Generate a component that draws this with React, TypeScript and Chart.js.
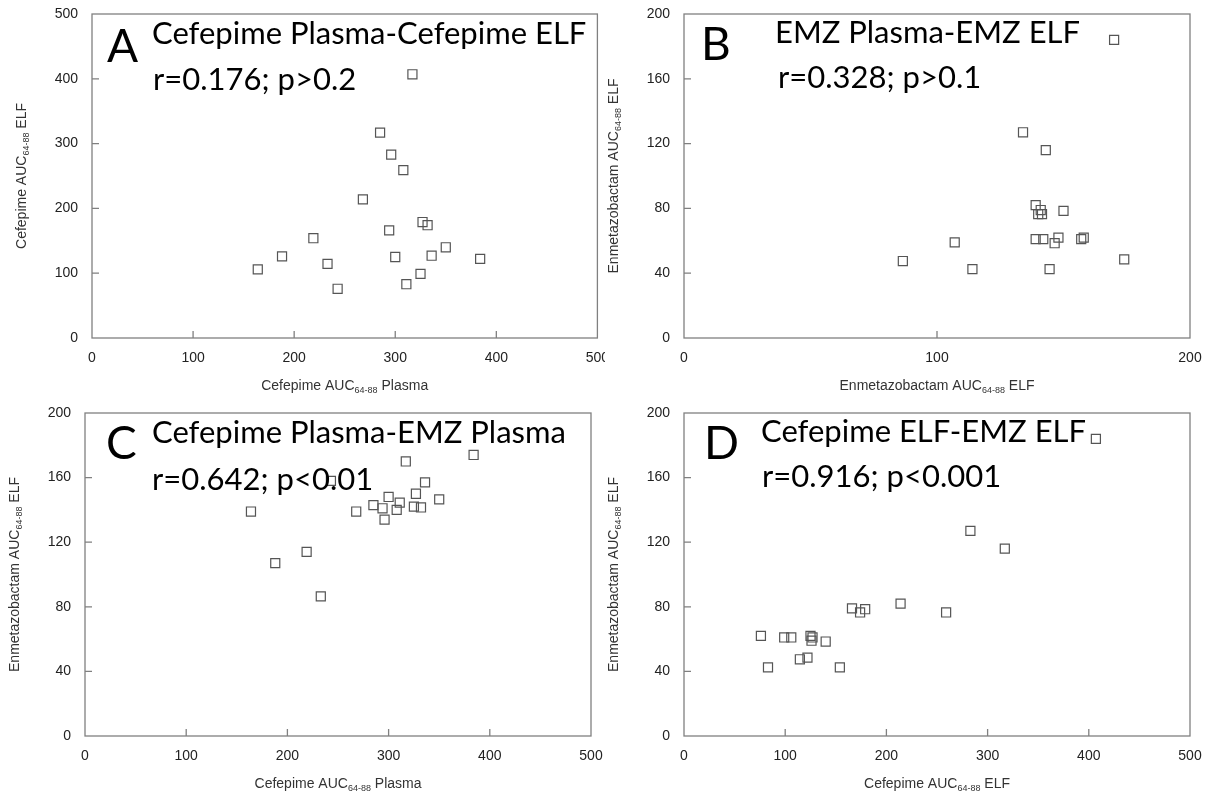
import React, { useEffect, useRef } from "react";
import { Chart, registerables } from "chart.js";

Chart.register(...registerables);

// ---- Data: one entry per patient (n = 19) ----
const cefepimePlasma = [317, 285, 296, 308, 268, 327, 332, 294, 219, 188, 350, 300, 336, 384, 164, 233, 325, 311, 243];
const cefepimeELF = [407, 317, 283, 259, 214, 179, 174, 166, 154, 126, 140, 125, 127, 122, 106, 114.5, 99, 83, 76];
const emzPlasma = [170, 143, 134, 140, 139, 150, 141.5, 141, 114, 107, 146.5, 148, 157, 174, 139, 86.5, 142, 144.5, 158];
const emzELF = [184, 116, 127, 76.5, 82, 78.5, 76.5, 79, 42.5, 59, 58.5, 62, 61, 48.5, 61, 47.5, 61, 42.5, 62];

// ---- Tick labels ----
const ticks0to500 = [0, 100, 200, 300, 400, 500];
const ticks0to200by40 = [0, 40, 80, 120, 160, 200];
const ticks0to200by100 = [0, 100, 200];

// ---- Panel texts ----
const letters = ["A", "B", "C", "D"];
const titles = [
  "Cefepime Plasma-Cefepime ELF",
  "EMZ Plasma-EMZ ELF",
  "Cefepime Plasma-EMZ Plasma",
  "Cefepime ELF-EMZ ELF",
];
const stats = ["r=0.176; p>0.2", "r=0.328; p>0.1", "r=0.642; p<0.01", "r=0.916; p<0.001"];

type Part = { t: string; sub?: boolean };
const titleCefPlasma: Part[] = [{ t: "Cefepime AUC" }, { t: "64-88", sub: true }, { t: " Plasma" }];
const titleCefELF: Part[] = [{ t: "Cefepime AUC" }, { t: "64-88", sub: true }, { t: " ELF" }];
const titleEmzELF: Part[] = [{ t: "Enmetazobactam AUC" }, { t: "64-88", sub: true }, { t: " ELF" }];

type PanelCfg = {
  left: number; top: number; w: number; h: number;
  area: { l: number; t: number; r: number; b: number }; // page coords
  xs: number[]; ys: number[];
  xTicks: number[]; yTicks: number[];
  xTitle: Part[]; yTitle: Part[];
  letter: string; title: string; stat: string;
  letterPos: [number, number]; titlePos: [number, number]; statPos: [number, number];
};

const panels: PanelCfg[] = [
  {
    left: 0, top: 0, w: 605, h: 395,
    area: { l: 92, t: 14, r: 598, b: 338 },
    xs: cefepimePlasma, ys: cefepimeELF,
    xTicks: ticks0to500, yTicks: ticks0to500,
    xTitle: titleCefPlasma, yTitle: titleCefELF,
    letter: letters[0], title: titles[0], stat: stats[0],
    letterPos: [107, 62], titlePos: [152, 44], statPos: [153, 90],
  },
  {
    left: 605, top: 0, w: 606, h: 395,
    area: { l: 684, t: 14, r: 1190, b: 338 },
    xs: emzPlasma, ys: emzELF,
    xTicks: ticks0to200by100, yTicks: ticks0to200by40,
    xTitle: titleEmzELF, yTitle: titleEmzELF,
    letter: letters[1], title: titles[1], stat: stats[1],
    letterPos: [701, 60], titlePos: [775, 43], statPos: [778, 88],
  },
  {
    left: 0, top: 395, w: 605, h: 399,
    area: { l: 85, t: 413, r: 591, b: 736 },
    xs: cefepimePlasma, ys: emzPlasma,
    xTicks: ticks0to500, yTicks: ticks0to200by40,
    xTitle: titleCefPlasma, yTitle: titleEmzELF,
    letter: letters[2], title: titles[2], stat: stats[2],
    letterPos: [106, 459], titlePos: [152, 443], statPos: [152, 490],
  },
  {
    left: 605, top: 395, w: 606, h: 399,
    area: { l: 684, t: 413, r: 1190, b: 736 },
    xs: cefepimeELF, ys: emzELF,
    xTicks: ticks0to500, yTicks: ticks0to200by40,
    xTitle: titleCefELF, yTitle: titleEmzELF,
    letter: letters[3], title: titles[3], stat: stats[3],
    letterPos: [704, 459], titlePos: [761, 442], statPos: [762, 487],
  },
];

const AXIS_FONT = "'Liberation Sans', Arial, sans-serif";
const BIG_FONT = "Lato, 'Open Sans', sans-serif";
const AXIS_COLOR = "#808080";
const TEXT_COLOR = "#222222";

function richWidth(ctx: CanvasRenderingContext2D, parts: Part[], size: number, sub: number) {
  let w = 0;
  for (const p of parts) {
    ctx.font = `${p.sub ? sub : size}px ${AXIS_FONT}`;
    w += ctx.measureText(p.t).width;
  }
  return w;
}

function drawRich(ctx: CanvasRenderingContext2D, parts: Part[], cx: number, cy: number, size: number, sub: number) {
  const total = richWidth(ctx, parts, size, sub);
  let x = cx - total / 2;
  ctx.textAlign = "left";
  ctx.textBaseline = "middle";
  for (const p of parts) {
    ctx.font = `${p.sub ? sub : size}px ${AXIS_FONT}`;
    ctx.fillText(p.t, x, p.sub ? cy + 5 : cy);
    x += ctx.measureText(p.t).width;
  }
}

function Panel({ cfg }: { cfg: PanelCfg }) {
  const ref = useRef<HTMLCanvasElement | null>(null);

  useEffect(() => {
    if (!ref.current) return;
    const ox = cfg.left;
    const oy = cfg.top;
    const yAxisWidth = cfg.area.l - ox;
    const xAxisHeight = oy + cfg.h - cfg.area.b;

    const deco = {
      id: "deco",
      afterDraw(chart: any) {
        const ctx: CanvasRenderingContext2D = chart.ctx;
        const a = chart.chartArea;
        const xs = chart.scales.x;
        const ys = chart.scales.y;
        ctx.save();
        // frame
        ctx.strokeStyle = AXIS_COLOR;
        ctx.lineWidth = 1.3;
        ctx.strokeRect(a.left, a.top, a.right - a.left, a.bottom - a.top);
        // inward ticks
        ctx.beginPath();
        cfg.xTicks.slice(1, -1).forEach((v) => {
          const px = xs.getPixelForValue(v);
          ctx.moveTo(px, a.bottom);
          ctx.lineTo(px, a.bottom - 7);
        });
        cfg.yTicks.slice(1, -1).forEach((v) => {
          const py = ys.getPixelForValue(v);
          ctx.moveTo(a.left, py);
          ctx.lineTo(a.left + 7, py);
        });
        ctx.stroke();

        // axis titles
        ctx.fillStyle = "#333333";
        drawRich(ctx, cfg.xTitle, (a.left + a.right) / 2, a.bottom + 48, 14, 9);
        ctx.save();
        ctx.translate(a.left - 70, (a.top + a.bottom) / 2);
        ctx.rotate(-Math.PI / 2);
        drawRich(ctx, cfg.yTitle, 0, 0, 14, 9);
        ctx.restore();

        // panel letter, title, statistics
        ctx.fillStyle = "#000000";
        ctx.textAlign = "left";
        ctx.textBaseline = "alphabetic";
        ctx.font = `46px ${BIG_FONT}`;
        ctx.fillText(cfg.letter, cfg.letterPos[0] - ox, cfg.letterPos[1] - oy);
        ctx.font = `31px ${BIG_FONT}`;
        ctx.fillText(cfg.title, cfg.titlePos[0] - ox, cfg.titlePos[1] - oy);
        ctx.fillText(cfg.stat, cfg.statPos[0] - ox, cfg.statPos[1] - oy);
        ctx.restore();
      },
    };

    const tickFont = { family: AXIS_FONT, size: 14 };
    const chart = new Chart(ref.current, {
      type: "scatter",
      data: {
        datasets: [
          {
            data: cfg.xs.map((x, i) => ({ x, y: cfg.ys[i] })),
            pointStyle: "rect",
            pointRadius: 6.4,
            pointHoverRadius: 6.4,
            pointBackgroundColor: "rgba(0,0,0,0)",
            pointBorderColor: "#555555",
            pointBorderWidth: 1.2,
            showLine: false,
          },
        ],
      },
      options: {
        responsive: false,
        animation: false,
        devicePixelRatio: 1,
        events: [],
        layout: {
          padding: {
            left: 0,
            top: cfg.area.t - oy,
            right: ox + cfg.w - cfg.area.r,
            bottom: 0,
          },
        },
        plugins: { legend: { display: false }, tooltip: { enabled: false } },
        scales: {
          x: {
            type: "linear",
            min: cfg.xTicks[0],
            max: cfg.xTicks[cfg.xTicks.length - 1],
            afterFit: (s: any) => {
              s.height = xAxisHeight;
              s.paddingLeft = 0;
              s.paddingRight = 0;
            },
            afterBuildTicks: (s: any) => { s.ticks = cfg.xTicks.map((v) => ({ value: v })); },
            grid: { display: false, drawTicks: false },
            border: { display: false },
            ticks: { font: tickFont, color: TEXT_COLOR, padding: 12, maxRotation: 0, autoSkip: false },
          },
          y: {
            type: "linear",
            min: cfg.yTicks[0],
            max: cfg.yTicks[cfg.yTicks.length - 1],
            afterFit: (s: any) => {
              s.width = yAxisWidth;
              s.paddingTop = 0;
              s.paddingBottom = 0;
            },
            afterBuildTicks: (s: any) => { s.ticks = cfg.yTicks.map((v) => ({ value: v })); },
            grid: { display: false, drawTicks: false },
            border: { display: false },
            ticks: { font: tickFont, color: TEXT_COLOR, padding: 14, autoSkip: false },
          },
        },
      },
      plugins: [deco],
    } as any);
    return () => chart.destroy();
  }, [cfg]);

  return (
    <canvas
      ref={ref}
      width={cfg.w}
      height={cfg.h}
      style={{ position: "absolute", left: cfg.left, top: cfg.top, width: cfg.w, height: cfg.h }}
    />
  );
}

export default function App() {
  return (
    <div style={{ position: "absolute", left: 0, top: 0, width: 1211, height: 794, background: "#ffffff", overflow: "hidden" }}>
      {panels.map((p, i) => (
        <Panel key={i} cfg={p} />
      ))}
    </div>
  );
}
